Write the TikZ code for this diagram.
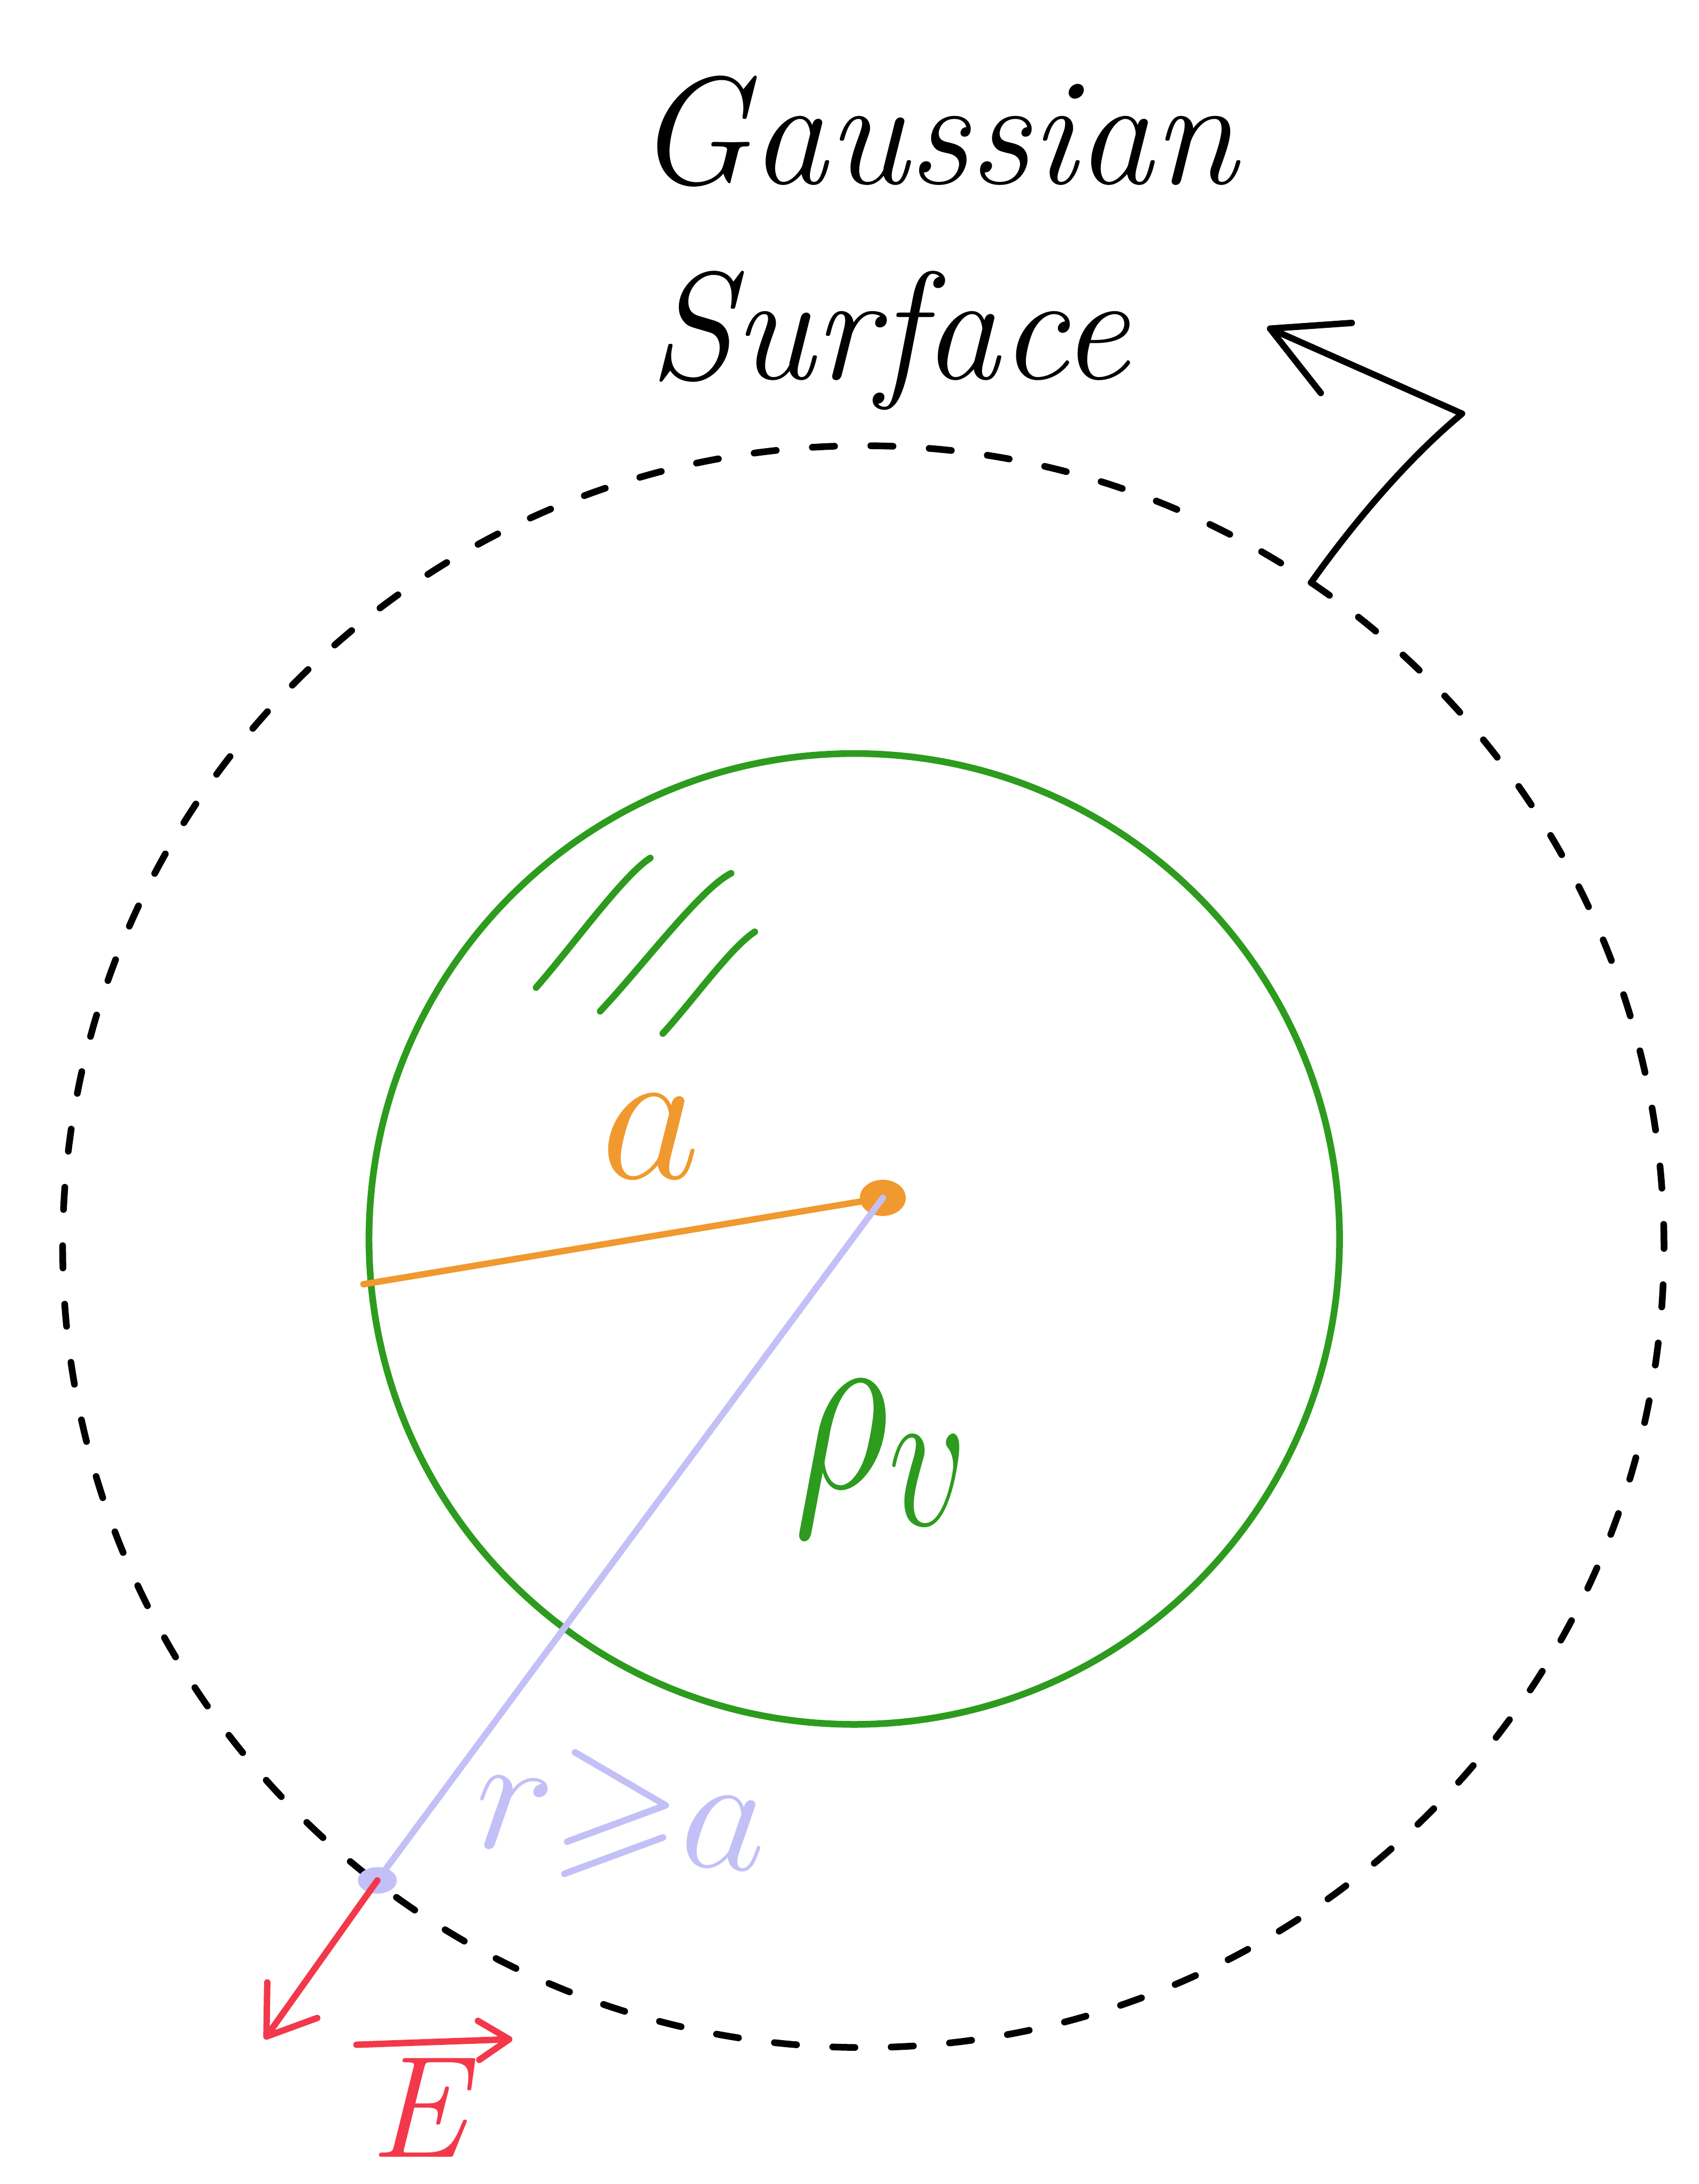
\documentclass[tikz,border=0pt]{standalone}
\usepackage{amssymb}
\usepackage{graphicx}
\usetikzlibrary{arrows.meta,shapes.geometric}
\definecolor{gr}{HTML}{2D9B1E}
\definecolor{orng}{HTML}{F0992E}
\definecolor{lav}{HTML}{C3C0F7}
\definecolor{rd}{HTML}{F2384A}
\begin{document}
\begin{tikzpicture}[x=1pt,y=-1pt,line cap=round,line join=round,
  gaussring/.style={draw=black,line width=4.8pt,dash pattern=on 16pt off 26pt,circle,inner sep=0pt,outer sep=0pt,minimum size=1150pt},
  sphere/.style={draw=gr,line width=4.8pt,circle,inner sep=0pt,outer sep=0pt,minimum size=697pt},
  hatch/.style={draw=gr,line width=4.8pt},
  dotmark/.style={ellipse,inner sep=0pt,outer sep=0pt},
  hand/.style={inner sep=0pt,outer sep=0pt},
  mathhand/.style={inner sep=0pt,outer sep=0pt,font=\fontsize{24.88}{30}\selectfont},
  pointer/.style={draw=black,line width=4.6pt,-{Straight Barb[round,length=52pt,width=55pt]}},
  field/.style={draw=rd,line width=4.6pt,-{Straight Barb[round,length=32pt,width=44pt]}},
  vecbar/.style={draw=rd,line width=4.6pt,-{Straight Barb[round,length=22pt,width=28pt]}}]
\useasboundingbox (0,0) rectangle (1220,1568);
% circles
\node[gaussring] (gs) at (620,895) {};
\node[sphere] (sp) at (613.5,889.5) {};
% hatching
\draw[hatch] (385,709) .. controls (412,678) and (448,628) .. (467,616);
\draw[hatch] (431,726) .. controls (462,693) and (503,638) .. (525,627);
\draw[hatch] (476,742) .. controls (498,718) and (524,681) .. (542,669);
% radius a
\node[dotmark,fill=orng,minimum width=33pt,minimum height=26pt] (O) at (634,860) {};
\coordinate (A) at (261,922);
\draw[orng,line width=4.6pt] (O.center) -- (A);
\node[mathhand,text=orng] (alab) at (467,816) {\scalebox{5.6}{$a$}};
% r line
\node[dotmark,fill=lav,minimum width=28pt,minimum height=19pt] (P) at (271,1350) {};
\draw[lav,line width=4.6pt] (O.center) -- (P.center);
\node[mathhand,text=lav,rotate=-5] (rlab) at (446,1305) {\scalebox{4.8}{$r\mathord{\geqslant}a$}};
% rho_v
\node[mathhand,text=gr] (rho) at (634,1047) {\scalebox{5.4}[7.2]{$\rho_v$}};
% E field
\coordinate (Etip) at (190,1464);
\draw[field] (P.center) -- (Etip);
\node[hand,text=rd,font=\fontsize{104}{120}\selectfont\itshape] (Elab) at (300,1513) {E};
\coordinate (Ea) at (256,1468);
\coordinate (Eb) at (368,1464);
\draw[vecbar] (Ea) -- (Eb);
% label
\node[hand,anchor=base west,font=\fontsize{110}{130}\selectfont\itshape] (t1) at (456,132) {Gaussian};
\node[hand,anchor=base west,font=\fontsize{110}{130}\selectfont\itshape] (t2) at (466,272) {Surface};
\coordinate (bend) at (1050,297);
\coordinate (gtip) at (910,235);
\draw[pointer] (gs.56.7) .. controls (970,378) and (1010,330) .. (bend) -- (gtip);
\end{tikzpicture}
\end{document}
